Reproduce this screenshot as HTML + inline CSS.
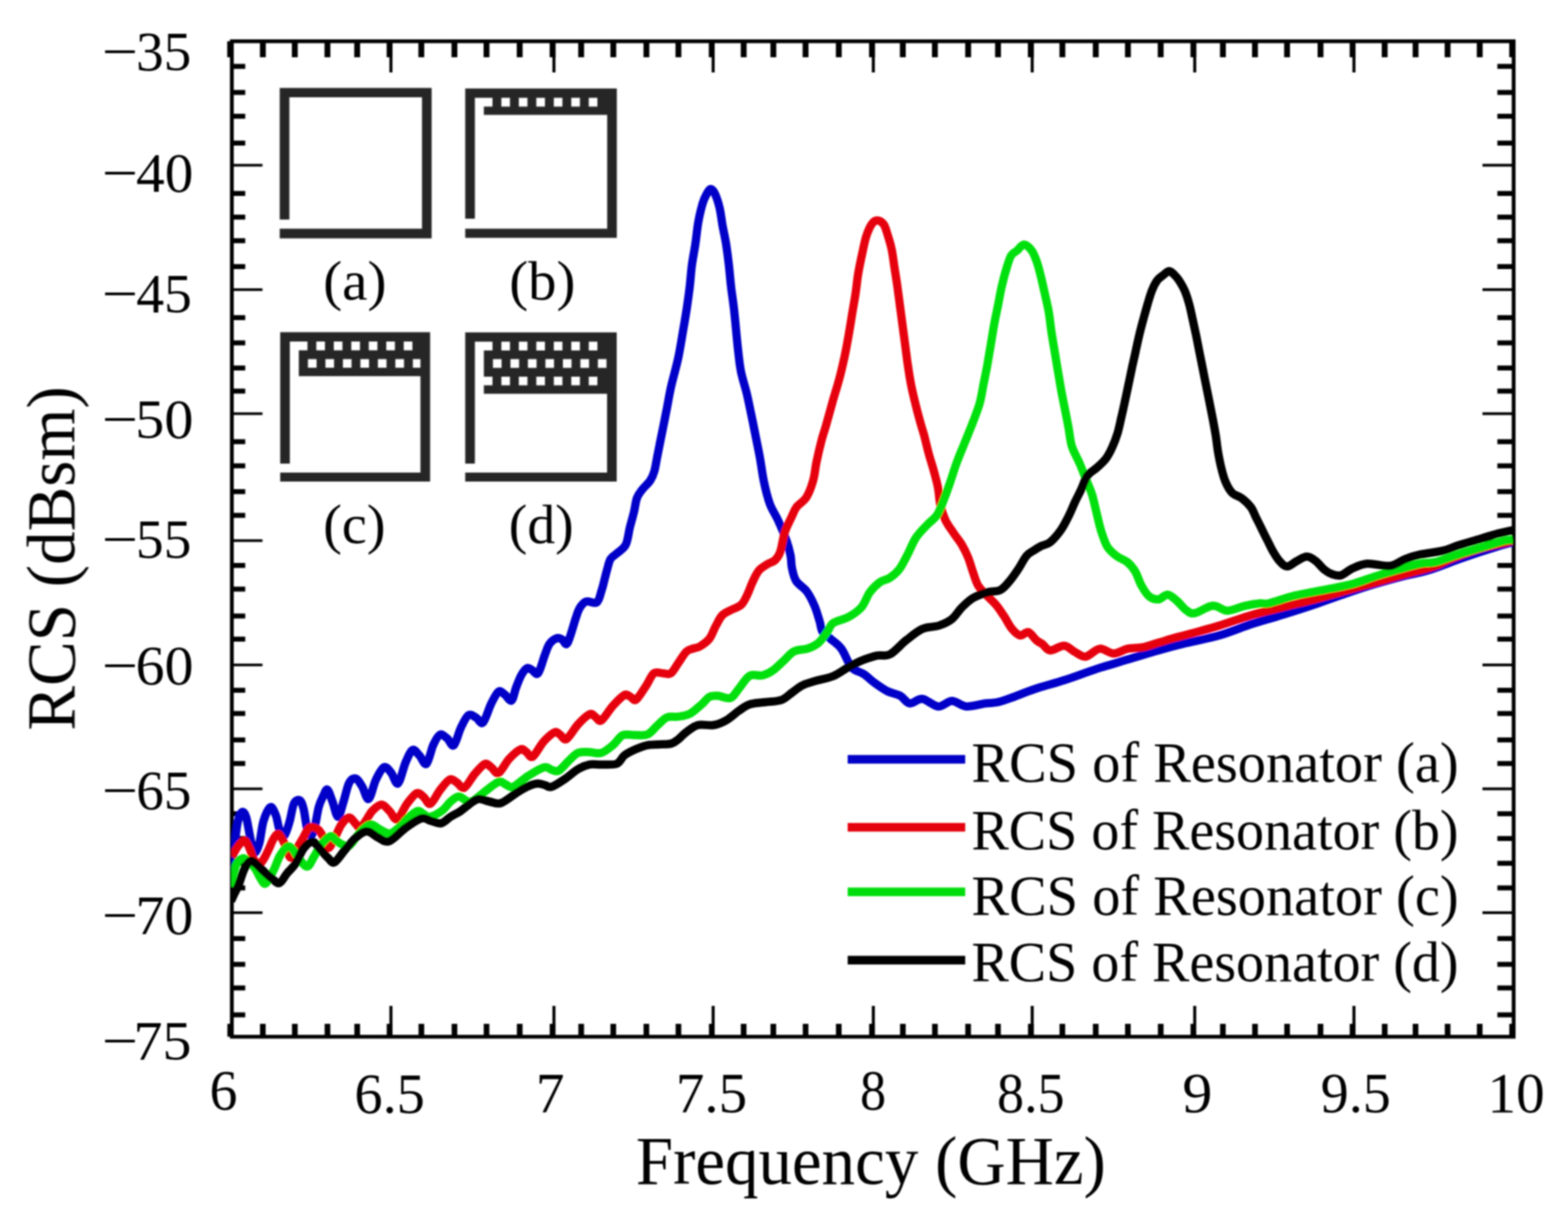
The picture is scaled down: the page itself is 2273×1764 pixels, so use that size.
<!DOCTYPE html>
<html><head><meta charset="utf-8"><title>RCS of Resonators</title>
<style>html,body{margin:0;padding:0;background:#fff;}body{width:2273px;height:1764px;overflow:hidden;}svg{display:block;}</style>
</head><body>
<svg width="2273" height="1764" viewBox="0 0 2273 1764">
<rect width="2273" height="1764" fill="#fff"/>
<defs><filter id="soft" x="0" y="0" width="100%" height="100%" filterUnits="userSpaceOnUse"><feGaussianBlur stdDeviation="0.9"/></filter></defs>
<g filter="url(#soft)">
<path fill="#272727" d="M405.50,127.40h220.20v13.50h-220.20zM405.50,140.90h14.00v177.40h-14.00zM611.70,140.90h14.00v190.50h-14.00zM405.50,331.40h220.20v14.00h-220.20z"/>
<path fill="#272727" d="M674.40,128.30h219.80v13.50h-219.80zM674.40,141.80h14.00v175.30h-14.00zM880.20,141.80h14.00v189.60h-14.00zM674.40,331.40h219.80v13.30h-219.80zM713.90,141.80h12.85v12.60h-12.85zM739.25,141.80h12.85v12.60h-12.85zM764.60,141.80h12.85v12.60h-12.85zM789.95,141.80h12.85v12.60h-12.85zM815.30,141.80h12.85v12.60h-12.85zM840.65,141.80h12.85v12.60h-12.85zM866.00,141.80h14.20v12.60h-14.20zM701.40,154.40h178.80v12.20h-178.80z"/>
<path fill="#272727" d="M406.20,481.60h217.30v13.50h-217.30zM406.20,495.10h14.00v176.80h-14.00zM609.50,495.10h14.00v189.90h-14.00zM406.20,685.00h217.30v13.10h-217.30zM445.70,495.10h12.85v12.60h-12.85zM471.05,495.10h12.85v12.60h-12.85zM496.40,495.10h12.85v12.60h-12.85zM521.75,495.10h12.85v12.60h-12.85zM547.10,495.10h12.85v12.60h-12.85zM572.45,495.10h12.85v12.60h-12.85zM597.80,495.10h11.70v12.60h-11.70zM433.20,507.70h176.30v12.70h-176.30zM433.20,520.40h13.20v12.60h-13.20zM458.90,520.40h12.85v12.60h-12.85zM484.25,520.40h12.85v12.60h-12.85zM509.60,520.40h12.85v12.60h-12.85zM534.95,520.40h12.85v12.60h-12.85zM560.30,520.40h12.85v12.60h-12.85zM585.65,520.40h12.85v12.60h-12.85zM433.20,533.00h176.30v12.20h-176.30z"/>
<path fill="#272727" d="M674.40,481.80h219.60v13.50h-219.60zM674.40,495.30h14.00v176.60h-14.00zM880.00,495.30h14.00v189.70h-14.00zM674.40,685.00h219.60v13.10h-219.60zM713.90,495.30h12.85v12.60h-12.85zM739.25,495.30h12.85v12.60h-12.85zM764.60,495.30h12.85v12.60h-12.85zM789.95,495.30h12.85v12.60h-12.85zM815.30,495.30h12.85v12.60h-12.85zM840.65,495.30h12.85v12.60h-12.85zM866.00,495.30h14.00v12.60h-14.00zM701.40,507.90h178.60v12.70h-178.60zM701.40,520.60h13.20v12.60h-13.20zM727.10,520.60h12.85v12.60h-12.85zM752.45,520.60h12.85v12.60h-12.85zM777.80,520.60h12.85v12.60h-12.85zM803.15,520.60h12.85v12.60h-12.85zM828.50,520.60h12.85v12.60h-12.85zM853.85,520.60h12.85v12.60h-12.85zM879.20,520.60h0.80v12.60h-0.80zM701.40,533.20h178.60v12.70h-178.60zM713.90,545.90h12.85v12.60h-12.85zM739.25,545.90h12.85v12.60h-12.85zM764.60,545.90h12.85v12.60h-12.85zM789.95,545.90h12.85v12.60h-12.85zM815.30,545.90h12.85v12.60h-12.85zM840.65,545.90h12.85v12.60h-12.85zM866.00,545.90h14.00v12.60h-14.00zM701.40,558.50h178.60v12.20h-178.60z"/>
<rect x="336.1" y="59.8" width="1858.1" height="1442.9" fill="none" stroke="#000" stroke-width="5.5"/>
<g fill="#000"><rect x="376.8" y="59.8" width="8.5" height="23.2"/><rect x="376.9" y="1484.0" width="8.2" height="18.7"/><rect x="423.1" y="59.8" width="8.5" height="23.2"/><rect x="423.3" y="1484.0" width="8.2" height="18.7"/><rect x="470.4" y="59.8" width="8.5" height="23.2"/><rect x="470.6" y="1484.0" width="8.2" height="18.7"/><rect x="513.5" y="59.8" width="8.5" height="23.2"/><rect x="513.7" y="1484.0" width="8.2" height="18.7"/><rect x="606.5" y="59.8" width="8.5" height="23.2"/><rect x="606.7" y="1484.0" width="8.2" height="18.7"/><rect x="654.5" y="59.8" width="8.5" height="23.2"/><rect x="654.7" y="1484.0" width="8.2" height="18.7"/><rect x="701.0" y="59.8" width="8.5" height="23.2"/><rect x="701.2" y="1484.0" width="8.2" height="18.7"/><rect x="749.1" y="59.8" width="8.5" height="23.2"/><rect x="749.3" y="1484.0" width="8.2" height="18.7"/><rect x="838.2" y="59.8" width="8.5" height="23.2"/><rect x="838.4" y="1484.0" width="8.2" height="18.7"/><rect x="884.8" y="59.8" width="8.5" height="23.2"/><rect x="884.9" y="1484.0" width="8.2" height="18.7"/><rect x="932.8" y="59.8" width="8.5" height="23.2"/><rect x="932.9" y="1484.0" width="8.2" height="18.7"/><rect x="979.2" y="59.8" width="8.5" height="23.2"/><rect x="979.4" y="1484.0" width="8.2" height="18.7"/><rect x="1073.8" y="59.8" width="8.5" height="23.2"/><rect x="1073.9" y="1484.0" width="8.2" height="18.7"/><rect x="1116.8" y="59.8" width="8.5" height="23.2"/><rect x="1116.9" y="1484.0" width="8.2" height="18.7"/><rect x="1163.5" y="59.8" width="8.5" height="23.2"/><rect x="1163.7" y="1484.0" width="8.2" height="18.7"/><rect x="1211.7" y="59.8" width="8.5" height="23.2"/><rect x="1211.8" y="1484.0" width="8.2" height="18.7"/><rect x="1304.5" y="59.8" width="8.5" height="23.2"/><rect x="1304.7" y="1484.0" width="8.2" height="18.7"/><rect x="1351.0" y="59.8" width="8.5" height="23.2"/><rect x="1351.2" y="1484.0" width="8.2" height="18.7"/><rect x="1399.2" y="59.8" width="8.5" height="23.2"/><rect x="1399.3" y="1484.0" width="8.2" height="18.7"/><rect x="1442.5" y="59.8" width="8.5" height="23.2"/><rect x="1442.6" y="1484.0" width="8.2" height="18.7"/><rect x="1535.8" y="59.8" width="8.5" height="23.2"/><rect x="1535.9" y="1484.0" width="8.2" height="18.7"/><rect x="1584.2" y="59.8" width="8.5" height="23.2"/><rect x="1584.3" y="1484.0" width="8.2" height="18.7"/><rect x="1630.8" y="59.8" width="8.5" height="23.2"/><rect x="1630.9" y="1484.0" width="8.2" height="18.7"/><rect x="1678.3" y="59.8" width="8.5" height="23.2"/><rect x="1678.5" y="1484.0" width="8.2" height="18.7"/><rect x="1768.5" y="59.8" width="8.5" height="23.2"/><rect x="1768.6" y="1484.0" width="8.2" height="18.7"/><rect x="1815.0" y="59.8" width="8.5" height="23.2"/><rect x="1815.2" y="1484.0" width="8.2" height="18.7"/><rect x="1861.5" y="59.8" width="8.5" height="23.2"/><rect x="1861.7" y="1484.0" width="8.2" height="18.7"/><rect x="1910.0" y="59.8" width="8.5" height="23.2"/><rect x="1910.1" y="1484.0" width="8.2" height="18.7"/><rect x="2003.0" y="59.8" width="8.5" height="23.2"/><rect x="2003.2" y="1484.0" width="8.2" height="18.7"/><rect x="2047.8" y="59.8" width="8.5" height="23.2"/><rect x="2047.9" y="1484.0" width="8.2" height="18.7"/><rect x="2094.2" y="59.8" width="8.5" height="23.2"/><rect x="2094.4" y="1484.0" width="8.2" height="18.7"/><rect x="2140.8" y="59.8" width="8.5" height="23.2"/><rect x="2140.9" y="1484.0" width="8.2" height="18.7"/><rect x="560.5" y="59.8" width="8.5" height="23.2"/><rect x="560.6" y="1484.0" width="8.2" height="18.7"/><rect x="796.8" y="59.8" width="8.5" height="23.2"/><rect x="796.9" y="1484.0" width="8.2" height="18.7"/><rect x="1027.5" y="59.8" width="8.5" height="23.2"/><rect x="1027.7" y="1484.0" width="8.2" height="18.7"/><rect x="1259.8" y="59.8" width="8.5" height="23.2"/><rect x="1259.9" y="1484.0" width="8.2" height="18.7"/><rect x="1490.0" y="59.8" width="8.5" height="23.2"/><rect x="1490.2" y="1484.0" width="8.2" height="18.7"/><rect x="1725.7" y="59.8" width="8.5" height="23.2"/><rect x="1725.8" y="1484.0" width="8.2" height="18.7"/><rect x="1956.5" y="59.8" width="8.5" height="23.2"/><rect x="1956.6" y="1484.0" width="8.2" height="18.7"/><rect x="329.4" y="59.8" width="8.5" height="23.2"/><rect x="329.6" y="1484.0" width="8.2" height="18.7"/><rect x="2187.8" y="59.8" width="8.5" height="23.2"/><rect x="2187.9" y="1484.0" width="8.2" height="18.7"/><rect x="564.5" y="59.8" width="4.4" height="45.2"/><rect x="564.5" y="1458.0" width="4.4" height="44.7"/><rect x="800.8" y="59.8" width="4.4" height="45.2"/><rect x="800.8" y="1458.0" width="4.4" height="44.7"/><rect x="1031.6" y="59.8" width="4.4" height="45.2"/><rect x="1031.6" y="1458.0" width="4.4" height="44.7"/><rect x="1263.8" y="59.8" width="4.4" height="45.2"/><rect x="1263.8" y="1458.0" width="4.4" height="44.7"/><rect x="1494.1" y="59.8" width="4.4" height="45.2"/><rect x="1494.1" y="1458.0" width="4.4" height="44.7"/><rect x="1729.7" y="59.8" width="4.4" height="45.2"/><rect x="1729.7" y="1458.0" width="4.4" height="44.7"/><rect x="1960.5" y="59.8" width="4.4" height="45.2"/><rect x="1960.5" y="1458.0" width="4.4" height="44.7"/><rect x="336.1" y="92.6" width="19.4" height="7.2"/><rect x="2170.6" y="92.6" width="23.6" height="7.2"/><rect x="336.1" y="130.4" width="19.4" height="7.2"/><rect x="2170.6" y="130.4" width="23.6" height="7.2"/><rect x="336.1" y="164.9" width="19.4" height="7.2"/><rect x="2170.6" y="164.9" width="23.6" height="7.2"/><rect x="336.1" y="203.8" width="19.4" height="7.2"/><rect x="2170.6" y="203.8" width="23.6" height="7.2"/><rect x="336.1" y="276.8" width="19.4" height="7.2"/><rect x="2170.6" y="276.8" width="23.6" height="7.2"/><rect x="336.1" y="311.1" width="19.4" height="7.2"/><rect x="2170.6" y="311.1" width="23.6" height="7.2"/><rect x="336.1" y="345.3" width="19.4" height="7.2"/><rect x="2170.6" y="345.3" width="23.6" height="7.2"/><rect x="336.1" y="382.8" width="19.4" height="7.2"/><rect x="2170.6" y="382.8" width="23.6" height="7.2"/><rect x="336.1" y="456.8" width="19.4" height="7.2"/><rect x="2170.6" y="456.8" width="23.6" height="7.2"/><rect x="336.1" y="493.4" width="19.4" height="7.2"/><rect x="2170.6" y="493.4" width="23.6" height="7.2"/><rect x="336.1" y="529.8" width="19.4" height="7.2"/><rect x="2170.6" y="529.8" width="23.6" height="7.2"/><rect x="336.1" y="563.3" width="19.4" height="7.2"/><rect x="2170.6" y="563.3" width="23.6" height="7.2"/><rect x="336.1" y="636.6" width="19.4" height="7.2"/><rect x="2170.6" y="636.6" width="23.6" height="7.2"/><rect x="336.1" y="671.6" width="19.4" height="7.2"/><rect x="2170.6" y="671.6" width="23.6" height="7.2"/><rect x="336.1" y="709.0" width="19.4" height="7.2"/><rect x="2170.6" y="709.0" width="23.6" height="7.2"/><rect x="336.1" y="743.4" width="19.4" height="7.2"/><rect x="2170.6" y="743.4" width="23.6" height="7.2"/><rect x="336.1" y="816.0" width="19.4" height="7.2"/><rect x="2170.6" y="816.0" width="23.6" height="7.2"/><rect x="336.1" y="850.3" width="19.4" height="7.2"/><rect x="2170.6" y="850.3" width="23.6" height="7.2"/><rect x="336.1" y="889.3" width="19.4" height="7.2"/><rect x="2170.6" y="889.3" width="23.6" height="7.2"/><rect x="336.1" y="922.8" width="19.4" height="7.2"/><rect x="2170.6" y="922.8" width="23.6" height="7.2"/><rect x="336.1" y="996.9" width="19.4" height="7.2"/><rect x="2170.6" y="996.9" width="23.6" height="7.2"/><rect x="336.1" y="1030.6" width="19.4" height="7.2"/><rect x="2170.6" y="1030.6" width="23.6" height="7.2"/><rect x="336.1" y="1068.9" width="19.4" height="7.2"/><rect x="2170.6" y="1068.9" width="23.6" height="7.2"/><rect x="336.1" y="1103.1" width="19.4" height="7.2"/><rect x="2170.6" y="1103.1" width="23.6" height="7.2"/><rect x="336.1" y="1175.9" width="19.4" height="7.2"/><rect x="2170.6" y="1175.9" width="23.6" height="7.2"/><rect x="336.1" y="1211.8" width="19.4" height="7.2"/><rect x="2170.6" y="1211.8" width="23.6" height="7.2"/><rect x="336.1" y="1247.7" width="19.4" height="7.2"/><rect x="2170.6" y="1247.7" width="23.6" height="7.2"/><rect x="336.1" y="1283.4" width="19.4" height="7.2"/><rect x="2170.6" y="1283.4" width="23.6" height="7.2"/><rect x="336.1" y="1356.8" width="19.4" height="7.2"/><rect x="2170.6" y="1356.8" width="23.6" height="7.2"/><rect x="336.1" y="1394.2" width="19.4" height="7.2"/><rect x="2170.6" y="1394.2" width="23.6" height="7.2"/><rect x="336.1" y="1428.4" width="19.4" height="7.2"/><rect x="2170.6" y="1428.4" width="23.6" height="7.2"/><rect x="336.1" y="1467.4" width="19.4" height="7.2"/><rect x="2170.6" y="1467.4" width="23.6" height="7.2"/><rect x="336.1" y="237.6" width="44.4" height="3.8"/><rect x="2149.0" y="237.5" width="45.2" height="4.0"/><rect x="336.1" y="417.9" width="44.4" height="3.8"/><rect x="2149.0" y="417.8" width="45.2" height="4.0"/><rect x="336.1" y="597.7" width="44.4" height="3.8"/><rect x="2149.0" y="597.6" width="45.2" height="4.0"/><rect x="336.1" y="781.7" width="44.4" height="3.8"/><rect x="2149.0" y="781.6" width="45.2" height="4.0"/><rect x="336.1" y="961.9" width="44.4" height="3.8"/><rect x="2149.0" y="961.8" width="45.2" height="4.0"/><rect x="336.1" y="1141.5" width="44.4" height="3.8"/><rect x="2149.0" y="1141.4" width="45.2" height="4.0"/><rect x="336.1" y="1321.0" width="44.4" height="3.8"/><rect x="2149.0" y="1320.9" width="45.2" height="4.0"/></g>
<defs><clipPath id="pc"><rect x="335.3" y="40" width="1857.6" height="1462"/></clipPath></defs>
<g clip-path="url(#pc)" fill="none" stroke-width="12" stroke-linejoin="round" stroke-linecap="butt">
<path d="M335.5,1262.0 C336.2,1255.8 338.6,1236.2 340.0,1225.0 C341.4,1213.8 342.7,1202.3 344.0,1195.0 C345.3,1187.7 346.6,1184.0 348.0,1181.0 C349.4,1178.0 351.0,1176.3 352.5,1177.0 C354.0,1177.7 355.6,1180.3 357.0,1185.0 C358.4,1189.7 359.7,1198.3 361.0,1205.0 C362.3,1211.7 363.6,1219.8 365.0,1225.0 C366.4,1230.2 367.9,1236.5 369.7,1236.0 C371.5,1235.5 373.9,1229.7 376.0,1222.0 C378.1,1214.3 379.3,1198.7 382.0,1190.0 C384.7,1181.3 389.0,1171.3 392.0,1170.0 C395.0,1168.7 397.8,1176.7 400.0,1182.0 C402.2,1187.3 402.9,1197.2 405.0,1202.0 C407.1,1206.8 409.8,1213.0 412.3,1211.0 C414.8,1209.0 417.7,1197.7 420.0,1190.0 C422.3,1182.3 423.6,1170.0 426.0,1165.0 C428.4,1160.0 432.2,1158.8 434.5,1160.0 C436.8,1161.2 438.2,1165.3 440.0,1172.0 C441.8,1178.7 443.2,1193.5 445.0,1200.0 C446.8,1206.5 448.7,1211.0 450.5,1211.0 C452.3,1211.0 454.1,1206.8 456.0,1200.0 C457.9,1193.2 460.0,1177.5 462.0,1170.0 C464.0,1162.5 465.9,1159.2 468.0,1155.0 C470.1,1150.8 472.2,1143.3 474.5,1144.5 C476.8,1145.7 479.4,1155.4 482.0,1162.0 C484.6,1168.6 487.3,1184.0 490.0,1184.0 C492.7,1184.0 495.3,1170.2 498.0,1162.0 C500.7,1153.8 503.1,1140.6 506.0,1135.0 C508.9,1129.4 512.3,1127.6 515.5,1128.4 C518.7,1129.2 521.9,1135.1 525.0,1140.0 C528.1,1144.9 531.1,1159.7 534.4,1158.0 C537.7,1156.3 541.3,1137.7 545.0,1130.0 C548.7,1122.3 553.1,1113.7 556.8,1112.0 C560.5,1110.3 563.6,1116.1 567.0,1120.0 C570.4,1123.9 573.4,1138.0 576.9,1135.5 C580.4,1133.0 584.5,1113.1 588.0,1105.0 C591.5,1096.9 594.8,1088.8 598.1,1087.1 C601.4,1085.4 604.6,1091.7 608.0,1095.0 C611.4,1098.3 614.9,1109.7 618.2,1107.2 C621.5,1104.7 624.8,1087.0 628.0,1080.0 C631.2,1073.0 634.4,1066.7 637.7,1065.0 C641.0,1063.3 644.6,1067.5 648.0,1070.0 C651.4,1072.5 654.5,1082.8 657.8,1080.3 C661.1,1077.8 664.5,1062.3 668.0,1055.0 C671.5,1047.7 675.3,1039.1 679.0,1036.6 C682.7,1034.1 686.5,1038.2 690.0,1040.0 C693.5,1041.8 696.5,1050.6 700.2,1047.3 C703.9,1044.0 708.2,1027.5 712.0,1020.0 C715.8,1012.5 719.4,1004.6 722.7,1002.4 C726.0,1000.2 728.9,1004.8 732.0,1007.0 C735.1,1009.2 738.8,1017.1 741.5,1015.4 C744.2,1013.7 745.7,1003.0 748.0,997.0 C750.3,991.0 752.7,984.0 755.3,979.3 C757.9,974.6 761.0,970.1 763.6,968.7 C766.2,967.3 768.2,969.8 771.0,971.0 C773.8,972.2 777.0,979.3 780.1,975.8 C783.2,972.3 786.9,956.9 789.6,949.8 C792.4,942.7 793.7,937.4 796.6,933.3 C799.5,929.2 804.2,926.0 807.3,925.0 C810.4,924.0 812.5,925.8 815.0,927.0 C817.5,928.2 819.4,937.1 822.6,932.1 C825.8,927.1 831.5,905.2 834.4,896.7 C837.3,888.2 837.8,885.5 840.3,881.4 C842.8,877.3 845.6,873.3 849.7,871.9 C853.8,870.5 861.4,875.9 865.1,873.1 C868.9,870.4 870.2,861.3 872.2,855.4 C874.2,849.5 875.6,842.6 876.9,837.7 C878.2,832.8 878.6,830.6 880.0,826.0 C881.4,821.4 882.5,814.2 885.1,810.1 C887.7,806.0 891.7,804.7 895.4,801.2 C899.1,797.8 904.2,795.5 907.2,789.4 C910.2,783.3 911.1,772.3 913.1,764.4 C915.1,756.5 917.3,749.3 919.0,742.2 C920.7,735.1 921.4,727.0 923.4,721.6 C925.4,716.2 927.6,714.0 930.8,709.8 C934.0,705.6 939.6,700.9 942.6,696.5 C945.6,692.1 946.8,689.1 948.5,683.2 C950.2,677.3 951.4,668.5 952.9,661.1 C954.4,653.7 955.8,646.4 957.3,639.0 C958.8,631.6 960.3,624.3 961.8,616.9 C963.3,609.5 964.3,604.2 966.2,594.7 C968.1,585.2 970.1,572.3 973.0,559.6 C975.9,546.9 980.4,532.1 983.3,518.3 C986.2,504.5 988.5,489.0 990.6,477.0 C992.7,465.0 994.2,456.4 995.7,446.1 C997.2,435.8 998.7,425.4 999.9,415.1 C1001.1,404.8 1001.6,394.5 1003.0,384.2 C1004.4,373.9 1006.6,363.5 1008.1,353.2 C1009.6,342.9 1010.5,331.8 1012.2,322.2 C1013.9,312.6 1016.4,302.3 1018.4,295.4 C1020.4,288.5 1022.5,284.6 1024.5,281.0 C1026.5,277.4 1028.5,274.0 1030.5,274.0 C1032.5,274.0 1034.4,276.4 1036.5,281.0 C1038.6,285.6 1041.4,294.0 1043.2,301.6 C1045.0,309.2 1045.8,317.8 1047.3,326.4 C1048.8,335.0 1051.0,343.6 1052.5,353.2 C1054.0,362.8 1055.4,373.9 1056.6,384.2 C1057.8,394.5 1058.5,404.8 1059.7,415.1 C1060.9,425.4 1062.6,435.8 1063.8,446.1 C1065.0,456.4 1065.9,466.7 1066.9,477.0 C1067.9,487.3 1068.8,497.7 1070.0,508.0 C1071.2,518.3 1072.1,528.7 1074.2,539.0 C1076.3,549.3 1080.0,559.9 1082.4,569.9 C1084.8,579.9 1086.6,589.4 1088.6,598.8 C1090.6,608.2 1092.1,615.7 1094.2,626.3 C1096.3,636.9 1099.2,650.4 1101.4,662.5 C1103.6,674.6 1105.1,687.5 1107.5,698.8 C1109.9,710.1 1112.5,720.9 1115.9,730.2 C1119.3,739.5 1124.0,745.5 1128.0,754.4 C1132.0,763.3 1137.1,775.0 1140.1,783.4 C1143.1,791.8 1144.7,798.4 1146.0,805.0 C1147.3,811.6 1146.7,816.8 1148.0,823.0 C1149.3,829.2 1150.5,836.3 1154.0,842.0 C1157.5,847.7 1164.8,851.0 1169.3,857.0 C1173.8,863.0 1177.6,870.8 1180.7,878.0 C1183.8,885.2 1186.0,893.7 1188.0,900.0 C1190.0,906.3 1189.8,911.7 1192.5,916.0 C1195.2,920.3 1199.4,921.9 1204.0,926.0 C1208.6,930.1 1214.8,933.7 1219.9,940.6 C1225.0,947.5 1229.1,961.1 1234.4,967.2 C1239.8,973.3 1246.3,973.2 1252.0,977.0 C1257.7,980.8 1262.5,986.0 1268.3,990.2 C1274.1,994.4 1280.5,999.0 1286.6,1002.0 C1292.7,1005.0 1299.7,1005.6 1305.0,1008.5 C1310.3,1011.4 1313.4,1018.8 1318.7,1019.5 C1324.0,1020.2 1330.1,1012.2 1337.0,1013.0 C1343.9,1013.8 1352.8,1023.5 1360.0,1024.0 C1367.2,1024.5 1373.2,1016.0 1380.0,1016.0 C1386.8,1016.0 1392.9,1023.4 1401.0,1024.0 C1409.1,1024.6 1420.9,1020.5 1428.6,1019.5 C1436.3,1018.5 1440.1,1019.3 1447.0,1017.7 C1453.9,1016.1 1461.2,1013.2 1470.0,1010.0 C1478.8,1006.8 1487.5,1002.8 1500.0,998.7 C1512.5,994.6 1529.9,990.1 1544.8,985.3 C1559.7,980.4 1574.6,974.5 1589.6,969.6 C1604.5,964.7 1619.5,960.6 1634.5,956.1 C1649.5,951.6 1665.0,946.7 1679.3,942.7 C1693.5,938.7 1705.3,935.6 1720.0,932.0 C1734.7,928.4 1751.7,925.6 1767.6,921.0 C1783.5,916.4 1799.3,909.5 1815.2,904.3 C1831.1,899.1 1847.0,895.0 1862.9,890.0 C1878.8,885.0 1894.7,879.9 1910.5,874.5 C1926.3,869.1 1944.2,862.5 1958.0,857.9 C1971.8,853.2 1979.8,850.5 1993.0,846.6 C2006.2,842.7 2024.1,837.8 2036.9,834.5 C2049.7,831.2 2055.2,831.4 2069.9,826.8 C2084.6,822.2 2108.3,812.7 2124.8,807.0 C2141.3,801.3 2157.4,796.2 2168.8,792.7 C2180.2,789.2 2189.0,787.1 2193.0,786.0" stroke="#0606c8"/>
<path d="M336.0,1242.0 C337.3,1239.7 341.5,1231.7 344.0,1228.0 C346.5,1224.3 349.0,1221.5 351.0,1220.0 C353.0,1218.5 354.2,1217.3 356.0,1219.0 C357.8,1220.7 360.0,1225.5 362.0,1230.0 C364.0,1234.5 365.7,1242.3 368.0,1246.0 C370.3,1249.7 373.5,1252.3 376.0,1252.0 C378.5,1251.7 380.7,1247.7 383.0,1244.0 C385.3,1240.3 387.7,1234.8 390.0,1230.0 C392.3,1225.2 394.7,1218.5 397.0,1215.0 C399.3,1211.5 401.5,1207.8 404.0,1209.0 C406.5,1210.2 409.2,1216.3 412.0,1222.0 C414.8,1227.7 418.0,1241.7 421.0,1243.0 C424.0,1244.3 426.9,1234.8 430.0,1230.0 C433.1,1225.2 436.6,1219.0 439.6,1214.0 C442.6,1209.0 445.1,1202.3 448.0,1200.0 C450.9,1197.7 454.7,1199.5 457.0,1200.0 C459.3,1200.5 460.2,1201.0 462.0,1203.0 C463.8,1205.0 465.7,1207.7 468.0,1212.0 C470.3,1216.3 473.2,1228.5 476.0,1229.0 C478.8,1229.5 481.8,1220.7 485.0,1215.0 C488.2,1209.3 491.5,1200.0 495.0,1195.0 C498.5,1190.0 502.8,1185.5 506.0,1185.0 C509.2,1184.5 511.3,1189.5 514.0,1192.0 C516.7,1194.5 519.3,1200.3 522.0,1200.0 C524.7,1199.7 527.0,1194.2 530.0,1190.0 C533.0,1185.8 536.1,1179.0 540.0,1175.0 C543.9,1171.0 549.1,1166.0 553.3,1166.2 C557.5,1166.4 561.3,1172.5 565.0,1176.0 C568.7,1179.5 571.5,1189.2 575.7,1187.4 C579.9,1185.6 585.3,1171.3 590.0,1165.0 C594.7,1158.7 600.0,1151.4 604.0,1149.7 C608.0,1148.0 610.7,1152.5 614.0,1155.0 C617.3,1157.5 620.0,1166.7 624.0,1165.0 C628.0,1163.3 633.4,1150.8 638.0,1145.0 C642.6,1139.2 647.9,1131.7 651.9,1129.9 C655.9,1128.1 658.5,1132.0 662.0,1134.0 C665.5,1136.0 668.8,1143.7 673.1,1141.7 C677.4,1139.7 683.1,1127.7 688.0,1122.0 C692.9,1116.3 698.6,1109.1 702.6,1107.4 C706.6,1105.7 708.6,1109.8 712.0,1112.0 C715.4,1114.2 718.4,1122.4 722.7,1120.4 C727.0,1118.4 732.7,1105.7 738.0,1100.0 C743.3,1094.3 750.3,1087.9 754.5,1086.2 C758.7,1084.5 760.0,1088.2 763.0,1090.0 C766.0,1091.8 768.0,1099.3 772.2,1096.8 C776.4,1094.3 782.7,1080.9 788.0,1075.0 C793.3,1069.1 800.0,1063.1 804.0,1061.4 C808.0,1059.7 809.1,1063.4 812.0,1065.0 C814.9,1066.6 816.9,1073.7 821.2,1071.2 C825.5,1068.7 832.4,1055.9 838.0,1049.9 C843.6,1043.9 850.6,1037.1 854.8,1035.3 C859.0,1033.5 860.2,1037.5 863.0,1039.0 C865.8,1040.5 867.5,1047.0 871.7,1044.3 C876.0,1041.6 882.9,1029.2 888.5,1023.0 C894.1,1016.8 901.0,1009.5 905.3,1007.3 C909.5,1005.1 911.2,1008.9 914.0,1010.0 C916.8,1011.1 918.3,1016.7 922.1,1014.0 C925.9,1011.3 932.4,1000.1 936.7,993.8 C941.0,987.4 943.8,978.9 947.9,975.9 C952.0,972.9 957.2,975.9 961.3,975.9 C965.4,975.9 968.9,978.5 972.6,975.9 C976.4,973.3 980.1,965.4 983.8,960.2 C987.5,955.0 991.5,947.9 995.0,944.5 C998.5,941.1 1001.7,941.2 1005.0,940.0 C1008.3,938.8 1010.7,939.4 1014.6,937.0 C1018.5,934.6 1024.6,930.7 1028.4,925.8 C1032.2,920.9 1034.5,913.0 1037.6,907.4 C1040.7,901.8 1043.2,895.8 1046.8,892.0 C1050.4,888.2 1054.5,886.9 1059.1,884.4 C1063.7,881.9 1070.3,880.6 1074.4,876.7 C1078.5,872.9 1080.9,866.8 1083.6,861.3 C1086.3,855.8 1088.1,849.6 1090.8,843.9 C1093.5,838.2 1096.5,831.3 1100.0,827.0 C1103.5,822.7 1108.1,820.5 1112.0,818.0 C1115.9,815.5 1120.3,815.0 1123.5,812.0 C1126.7,809.0 1128.6,806.8 1131.0,800.0 C1133.4,793.2 1135.0,779.7 1137.7,771.3 C1140.4,762.9 1144.6,755.6 1147.4,749.6 C1150.2,743.6 1151.0,739.9 1154.6,735.1 C1158.2,730.3 1165.1,727.1 1169.1,720.6 C1173.1,714.1 1176.4,704.9 1178.8,696.4 C1181.2,687.9 1181.6,679.5 1183.6,669.8 C1185.6,660.1 1188.6,647.2 1190.9,638.4 C1193.2,629.6 1194.6,626.6 1197.3,617.2 C1200.0,607.8 1203.8,593.5 1207.0,582.1 C1210.2,570.7 1213.8,560.0 1216.7,549.0 C1219.6,538.0 1222.2,526.6 1224.5,515.9 C1226.8,505.2 1228.6,494.8 1230.4,484.7 C1232.2,474.6 1233.6,465.2 1235.2,455.5 C1236.8,445.8 1238.6,436.0 1240.1,426.3 C1241.6,416.6 1242.4,406.8 1244.0,397.1 C1245.6,387.4 1247.8,377.0 1249.8,367.9 C1251.8,358.8 1253.4,349.7 1255.7,342.6 C1258.0,335.5 1260.9,329.0 1263.5,325.1 C1266.1,321.2 1268.4,319.5 1271.3,319.5 C1274.2,319.5 1278.4,321.6 1281.0,325.1 C1283.6,328.6 1284.8,334.4 1286.8,340.6 C1288.8,346.8 1291.1,354.3 1292.7,362.1 C1294.3,369.9 1295.3,379.0 1296.6,387.4 C1297.9,395.8 1299.2,403.6 1300.5,412.7 C1301.8,421.8 1303.1,432.2 1304.4,441.9 C1305.7,451.6 1307.0,461.4 1308.3,471.1 C1309.6,480.8 1310.9,490.6 1312.2,500.3 C1313.5,510.0 1314.6,519.8 1316.1,529.5 C1317.5,539.2 1319.0,549.0 1320.9,558.7 C1322.8,568.5 1325.3,578.2 1327.7,588.0 C1330.1,597.8 1333.5,610.1 1335.5,617.2 C1337.5,624.3 1337.7,623.7 1339.6,630.7 C1341.5,637.7 1344.3,650.4 1346.7,659.0 C1349.1,667.6 1351.6,674.7 1353.7,682.6 C1355.8,690.5 1358.0,697.9 1359.6,706.2 C1361.2,714.5 1361.4,724.3 1363.2,732.2 C1365.0,740.1 1367.2,746.7 1370.3,753.4 C1373.4,760.1 1378.2,766.4 1382.1,772.3 C1386.0,778.2 1390.4,783.0 1393.9,788.9 C1397.4,794.8 1400.5,801.0 1403.3,807.7 C1406.0,814.4 1408.0,822.3 1410.4,829.0 C1412.8,835.7 1414.3,842.4 1417.5,847.9 C1420.7,853.4 1425.0,857.3 1429.3,862.0 C1433.6,866.7 1439.1,871.1 1443.4,876.2 C1447.7,881.3 1451.2,886.8 1455.2,892.7 C1459.2,898.6 1463.1,906.9 1467.1,911.6 C1471.0,916.3 1475.0,920.2 1478.9,921.0 C1482.8,921.8 1486.8,915.1 1490.7,916.3 C1494.6,917.5 1499.1,925.2 1502.5,928.1 C1505.9,931.0 1507.9,931.3 1511.2,933.7 C1514.5,936.1 1517.2,942.3 1522.4,942.7 C1527.6,943.1 1536.6,935.6 1542.6,936.0 C1548.6,936.4 1553.1,942.4 1558.3,945.0 C1563.5,947.6 1568.0,952.5 1574.0,951.7 C1580.0,950.9 1587.4,941.1 1594.1,940.4 C1600.8,939.6 1607.6,947.2 1614.3,947.2 C1621.0,947.2 1627.4,941.9 1634.5,940.4 C1641.6,938.9 1649.4,939.7 1656.9,938.2 C1664.4,936.7 1671.8,933.7 1679.3,931.5 C1686.8,929.3 1694.9,926.7 1701.7,924.8 C1708.5,922.9 1709.0,923.0 1720.0,920.0 C1731.0,917.0 1751.7,911.5 1767.6,906.7 C1783.5,901.9 1799.3,895.8 1815.2,891.2 C1831.1,886.6 1847.0,883.3 1862.9,879.3 C1878.8,875.3 1894.7,871.6 1910.5,867.4 C1926.3,863.2 1944.2,858.1 1958.0,854.3 C1971.8,850.5 1979.8,848.1 1993.0,844.4 C2006.2,840.7 2022.2,836.3 2036.9,832.3 C2051.6,828.3 2069.9,823.9 2080.9,820.2 C2091.9,816.5 2091.9,814.5 2102.9,810.3 C2113.9,806.1 2131.8,799.4 2146.8,795.0 C2161.8,790.6 2185.3,785.8 2193.0,784.0" stroke="#e6060a"/>
<path d="M334.0,1285.0 C334.7,1282.2 336.5,1273.5 338.0,1268.0 C339.5,1262.5 340.7,1256.0 343.0,1252.0 C345.3,1248.0 349.2,1244.7 352.0,1244.0 C354.8,1243.3 357.1,1245.6 360.0,1248.0 C362.9,1250.4 366.9,1254.5 369.7,1258.5 C372.5,1262.5 374.6,1268.2 377.0,1272.0 C379.4,1275.8 381.7,1281.0 384.0,1281.0 C386.3,1281.0 388.7,1275.8 391.0,1272.0 C393.3,1268.2 395.5,1263.8 398.0,1258.5 C400.5,1253.2 402.8,1245.2 406.0,1240.0 C409.2,1234.8 413.8,1228.3 417.0,1227.0 C420.2,1225.7 422.3,1229.2 425.0,1232.0 C427.7,1234.8 429.6,1240.0 433.0,1244.0 C436.4,1248.0 441.6,1256.3 445.3,1256.0 C449.0,1255.7 451.6,1247.4 455.0,1242.0 C458.4,1236.6 462.0,1228.8 466.0,1223.8 C470.0,1218.8 475.5,1213.2 479.0,1212.2 C482.5,1211.2 484.2,1216.0 487.0,1218.0 C489.8,1220.0 492.8,1222.7 496.0,1224.0 C499.2,1225.3 502.7,1227.7 506.0,1226.0 C509.3,1224.3 512.7,1218.0 516.0,1214.0 C519.3,1210.0 522.3,1205.2 526.0,1202.0 C529.7,1198.8 533.7,1194.8 538.0,1195.0 C542.3,1195.2 547.3,1200.8 552.0,1203.0 C556.7,1205.2 561.0,1209.2 566.0,1208.0 C571.0,1206.8 578.0,1199.5 582.0,1196.0 C586.0,1192.5 586.1,1190.4 590.0,1187.0 C593.9,1183.6 601.2,1176.8 605.2,1175.6 C609.2,1174.4 611.0,1178.6 614.0,1180.0 C617.0,1181.4 618.5,1184.9 623.0,1184.0 C627.5,1183.1 636.2,1178.4 641.2,1174.7 C646.2,1171.0 649.1,1165.3 653.0,1162.0 C656.9,1158.7 661.1,1154.9 664.8,1154.6 C668.5,1154.3 671.8,1158.8 675.0,1160.0 C678.2,1161.2 679.5,1164.0 684.0,1162.0 C688.5,1160.0 695.5,1152.8 702.0,1148.0 C708.5,1143.2 717.5,1135.2 722.7,1133.4 C727.9,1131.6 729.5,1135.8 733.0,1137.0 C736.5,1138.2 738.6,1142.5 743.9,1140.5 C749.2,1138.5 757.5,1129.7 765.0,1125.0 C772.5,1120.3 782.9,1113.7 788.7,1112.2 C794.5,1110.7 796.5,1115.2 800.0,1116.0 C803.5,1116.8 805.9,1119.2 810.0,1117.0 C814.1,1114.8 819.9,1106.9 824.6,1102.6 C829.3,1098.3 833.0,1093.4 838.0,1091.3 C843.0,1089.2 849.2,1090.2 854.8,1090.2 C860.4,1090.2 866.1,1093.0 871.7,1091.3 C877.3,1089.6 883.3,1084.4 888.5,1080.1 C893.7,1075.8 897.4,1068.0 903.0,1065.6 C908.6,1063.2 916.1,1065.8 922.1,1065.6 C928.1,1065.4 933.7,1066.8 938.9,1064.4 C944.1,1062.0 948.8,1055.1 953.5,1051.0 C958.2,1046.9 962.0,1041.8 967.0,1039.8 C972.0,1037.8 978.2,1039.6 983.8,1038.7 C989.4,1037.8 995.0,1037.2 1000.6,1034.2 C1006.2,1031.2 1012.7,1024.7 1017.4,1020.7 C1022.1,1016.7 1024.7,1012.0 1028.6,1010.0 C1032.5,1008.0 1035.6,1008.3 1040.7,1008.6 C1045.8,1008.9 1054.0,1013.5 1059.1,1011.7 C1064.2,1009.9 1066.7,1003.3 1071.3,997.9 C1075.9,992.5 1081.1,982.5 1086.7,979.4 C1092.3,976.2 1099.5,980.3 1105.1,979.0 C1110.7,977.7 1115.3,975.3 1120.4,971.8 C1125.5,968.3 1130.7,962.6 1135.8,958.0 C1140.9,953.4 1145.2,947.2 1151.1,944.2 C1157.0,941.2 1165.1,942.0 1171.0,940.0 C1176.9,938.0 1181.8,935.8 1186.4,931.9 C1191.0,928.0 1195.1,921.4 1198.7,916.6 C1202.3,911.8 1202.7,906.7 1207.8,903.0 C1212.9,899.3 1222.8,898.4 1229.6,894.6 C1236.4,890.8 1243.7,886.1 1248.9,880.1 C1254.1,874.1 1256.6,864.4 1261.0,858.4 C1265.4,852.4 1270.7,847.4 1275.5,843.9 C1280.3,840.4 1285.2,840.8 1290.0,837.5 C1294.8,834.2 1299.9,830.0 1304.2,824.3 C1308.5,818.5 1312.1,810.5 1316.0,803.0 C1319.9,795.5 1323.1,786.5 1327.8,779.4 C1332.5,772.3 1339.2,766.0 1344.3,760.5 C1349.4,755.0 1354.6,752.3 1358.5,746.4 C1362.4,740.5 1364.8,733.0 1367.9,725.1 C1371.0,717.2 1374.2,708.2 1377.3,699.2 C1380.4,690.2 1383.6,679.5 1386.8,670.8 C1390.0,662.1 1393.3,654.3 1396.2,647.2 C1399.1,640.1 1401.6,634.1 1404.0,628.0 C1406.4,621.9 1408.1,618.1 1410.8,610.8 C1413.5,603.5 1417.7,593.5 1420.2,584.4 C1422.7,575.3 1424.0,565.5 1425.9,556.1 C1427.8,546.7 1429.8,537.2 1431.5,527.7 C1433.2,518.2 1434.7,508.8 1436.3,499.4 C1437.9,490.0 1439.3,480.5 1441.0,471.1 C1442.7,461.7 1444.8,452.2 1446.7,442.8 C1448.6,433.4 1450.1,423.8 1452.3,414.4 C1454.5,404.9 1457.6,393.5 1459.9,386.1 C1462.2,378.7 1463.7,373.8 1466.0,370.0 C1468.3,366.2 1470.9,366.1 1474.0,363.5 C1477.1,360.9 1480.8,354.5 1484.4,354.5 C1488.0,354.5 1492.7,359.1 1495.8,363.4 C1498.9,367.7 1501.1,374.1 1503.3,380.4 C1505.5,386.7 1507.1,393.6 1509.0,401.2 C1510.9,408.8 1512.7,417.3 1514.6,425.8 C1516.5,434.3 1518.7,443.1 1520.3,452.2 C1521.9,461.3 1522.7,471.1 1524.1,480.5 C1525.5,489.9 1527.2,499.4 1528.8,508.9 C1530.4,518.4 1531.9,527.8 1533.5,537.2 C1535.1,546.6 1536.6,556.1 1538.3,565.5 C1540.0,574.9 1542.1,584.7 1543.9,593.8 C1545.7,602.9 1547.3,611.1 1549.0,620.0 C1550.7,628.9 1551.1,638.3 1553.8,646.9 C1556.5,655.5 1561.6,663.6 1565.0,671.5 C1568.4,679.4 1571.0,686.5 1574.0,694.0 C1577.0,701.5 1580.3,708.2 1582.9,716.4 C1585.5,724.6 1587.3,734.2 1589.6,743.2 C1591.8,752.2 1593.8,761.9 1596.4,770.1 C1599.0,778.3 1601.6,786.6 1605.3,792.6 C1609.0,798.6 1613.9,802.3 1618.8,806.0 C1623.7,809.7 1630.0,811.3 1634.5,815.0 C1639.0,818.7 1642.4,822.8 1645.7,828.4 C1649.0,834.0 1651.2,842.6 1654.6,848.6 C1657.9,854.6 1661.7,860.9 1665.8,864.3 C1669.9,867.6 1674.8,869.1 1679.3,868.7 C1683.8,868.3 1688.2,861.6 1692.7,862.0 C1697.2,862.4 1701.7,867.3 1706.2,871.0 C1710.7,874.7 1715.3,881.4 1719.6,884.4 C1723.9,887.4 1725.5,889.8 1731.9,888.8 C1738.3,887.8 1750.2,878.7 1758.1,878.1 C1766.0,877.5 1771.9,885.2 1779.5,885.2 C1787.1,885.2 1795.8,880.2 1803.7,878.4 C1811.6,876.6 1821.2,875.1 1827.1,874.5 C1833.0,873.9 1831.0,876.3 1839.0,874.5 C1847.0,872.7 1862.9,866.8 1874.8,863.8 C1886.7,860.8 1896.6,859.5 1910.5,856.7 C1924.4,853.9 1944.2,850.6 1958.0,847.1 C1971.8,843.6 1981.7,839.2 1993.0,835.6 C2004.3,832.0 2015.0,828.8 2026.0,825.7 C2037.0,822.6 2049.8,818.8 2058.9,817.0 C2068.1,815.2 2071.8,816.9 2080.9,814.7 C2090.1,812.5 2102.8,807.2 2113.8,803.7 C2124.8,800.2 2135.8,797.1 2146.8,793.8 C2157.8,790.5 2172.1,785.9 2179.8,784.0 C2187.5,782.1 2190.8,782.8 2193.0,782.5" stroke="#00e00a"/>
<path d="M335.0,1306.0 C335.8,1304.2 338.1,1299.0 340.0,1295.0 C341.9,1291.0 343.9,1287.8 346.2,1282.0 C348.5,1276.2 351.2,1265.7 354.0,1260.0 C356.8,1254.3 360.2,1249.3 363.0,1248.0 C365.8,1246.7 368.3,1250.0 371.0,1252.0 C373.7,1254.0 375.5,1256.6 379.2,1260.0 C382.9,1263.4 389.0,1269.3 393.3,1272.6 C397.6,1275.9 401.2,1281.1 405.0,1280.0 C408.8,1278.9 412.1,1270.7 416.0,1266.0 C419.9,1261.3 424.3,1258.0 428.3,1252.0 C432.3,1246.0 435.9,1235.3 440.0,1230.0 C444.1,1224.7 449.5,1220.7 452.8,1220.0 C456.1,1219.3 457.8,1223.8 460.0,1226.0 C462.2,1228.2 463.3,1230.2 466.0,1233.2 C468.7,1236.2 472.9,1241.2 476.0,1244.0 C479.1,1246.8 480.8,1252.0 484.8,1250.0 C488.8,1248.0 494.8,1238.0 500.0,1232.0 C505.2,1226.0 510.7,1218.5 516.0,1214.0 C521.3,1209.5 526.7,1205.1 532.0,1205.1 C537.3,1205.1 542.7,1211.6 548.0,1214.0 C553.3,1216.4 557.3,1221.6 564.0,1219.3 C570.7,1217.0 580.2,1205.5 588.0,1200.0 C595.8,1194.5 604.8,1188.0 611.0,1186.3 C617.2,1184.6 620.3,1188.8 625.0,1190.0 C629.7,1191.2 634.7,1194.3 639.4,1193.3 C644.1,1192.3 648.4,1186.9 653.0,1184.0 C657.6,1181.1 662.7,1178.9 667.2,1175.9 C671.7,1172.9 675.7,1169.0 680.0,1166.0 C684.3,1163.0 688.2,1158.9 693.2,1158.2 C698.2,1157.5 704.5,1161.0 710.0,1162.0 C715.5,1163.0 719.6,1166.2 726.2,1164.0 C732.8,1161.8 743.3,1152.7 749.8,1148.7 C756.3,1144.7 760.1,1142.2 765.0,1140.0 C769.9,1137.8 775.1,1136.1 779.3,1135.8 C783.5,1135.5 786.6,1137.2 790.0,1138.0 C793.4,1138.8 794.5,1142.0 799.4,1140.5 C804.3,1139.0 813.0,1133.0 819.4,1128.7 C825.8,1124.4 832.1,1118.3 838.0,1114.9 C843.9,1111.5 849.2,1109.3 854.8,1108.2 C860.4,1107.1 865.2,1108.4 871.7,1108.2 C878.2,1108.0 888.5,1109.2 894.1,1107.0 C899.7,1104.8 900.6,1098.2 905.3,1094.7 C910.0,1091.2 916.5,1088.1 922.1,1085.7 C927.7,1083.3 933.3,1081.2 938.9,1080.1 C944.5,1079.0 950.1,1079.4 955.7,1079.0 C961.3,1078.6 967.9,1079.2 972.6,1077.9 C977.3,1076.6 980.1,1074.0 983.8,1071.2 C987.5,1068.4 990.3,1064.5 995.0,1061.1 C999.7,1057.7 1005.3,1052.7 1011.8,1051.0 C1018.3,1049.3 1027.3,1052.2 1034.2,1051.0 C1041.1,1049.8 1046.7,1047.4 1052.9,1043.9 C1059.1,1040.4 1065.7,1033.9 1071.3,1030.1 C1076.9,1026.3 1080.3,1022.9 1086.7,1020.9 C1093.1,1018.9 1102.0,1018.8 1109.7,1017.8 C1117.4,1016.8 1126.3,1017.0 1132.7,1014.7 C1139.1,1012.4 1142.9,1007.6 1148.0,1004.0 C1153.1,1000.4 1157.5,996.2 1163.4,993.3 C1169.3,990.4 1176.2,988.7 1183.6,986.5 C1191.0,984.3 1200.1,983.2 1207.8,980.0 C1215.5,976.8 1222.8,971.0 1229.6,967.2 C1236.4,963.5 1242.1,960.3 1248.9,957.5 C1255.8,954.7 1263.9,951.8 1270.7,950.3 C1277.5,948.8 1282.8,952.2 1290.0,948.5 C1297.2,944.8 1305.7,934.2 1313.6,928.1 C1321.5,922.0 1329.3,915.1 1337.2,911.6 C1345.1,908.1 1353.7,909.2 1360.8,906.9 C1367.9,904.5 1374.2,901.8 1379.7,897.5 C1385.2,893.2 1388.8,886.0 1393.9,880.9 C1399.0,875.8 1404.1,870.5 1410.4,866.8 C1416.7,863.1 1424.9,860.5 1431.6,858.5 C1438.3,856.5 1445.0,858.0 1450.5,855.0 C1456.0,852.0 1460.4,845.9 1464.7,840.8 C1469.0,835.7 1472.6,830.2 1476.5,824.3 C1480.4,818.4 1484.4,809.9 1488.3,805.4 C1492.2,800.9 1496.4,799.4 1500.0,797.0 C1503.6,794.6 1506.3,793.1 1510.0,791.2 C1513.7,789.3 1517.7,789.7 1522.4,785.8 C1527.1,781.9 1533.6,774.2 1538.1,767.9 C1542.6,761.5 1545.9,754.4 1549.3,747.7 C1552.7,741.0 1555.3,734.0 1558.3,727.6 C1561.3,721.2 1564.2,716.0 1567.2,709.6 C1570.2,703.2 1572.5,694.7 1576.2,689.5 C1579.9,684.3 1585.1,682.4 1589.6,678.3 C1594.1,674.2 1599.4,669.7 1603.1,664.8 C1606.8,659.9 1609.2,655.1 1612.0,649.0 C1614.8,642.9 1617.8,635.3 1620.0,628.0 C1622.2,620.7 1623.8,612.2 1625.5,605.0 C1627.2,597.8 1628.4,592.2 1630.0,585.0 C1631.6,577.8 1633.2,569.9 1635.0,561.6 C1636.8,553.3 1638.7,543.7 1640.5,535.2 C1642.3,526.7 1644.2,518.7 1646.0,510.4 C1647.8,502.1 1649.6,493.6 1651.5,485.6 C1653.4,477.6 1655.5,469.9 1657.5,462.5 C1659.5,455.1 1661.5,447.9 1663.5,441.0 C1665.5,434.1 1667.5,427.0 1669.8,421.2 C1672.1,415.4 1674.9,410.0 1677.6,406.3 C1680.3,402.6 1683.1,401.2 1686.0,399.0 C1688.9,396.8 1692.2,393.0 1695.0,393.0 C1697.8,393.0 1700.7,396.8 1703.0,399.0 C1705.3,401.2 1706.6,402.6 1709.0,406.3 C1711.4,410.0 1714.8,415.4 1717.3,421.2 C1719.8,427.0 1722.0,434.1 1723.9,441.0 C1725.8,447.9 1727.2,455.1 1728.8,462.5 C1730.4,469.9 1732.1,477.6 1733.8,485.6 C1735.5,493.6 1737.0,502.1 1738.7,510.4 C1740.4,518.7 1742.1,527.0 1743.7,535.2 C1745.3,543.5 1746.9,551.6 1748.6,559.9 C1750.2,568.1 1751.9,576.4 1753.6,584.7 C1755.2,593.0 1757.0,601.6 1758.5,609.5 C1760.0,617.4 1761.3,624.6 1762.5,632.0 C1763.7,639.4 1764.2,646.3 1765.5,653.9 C1766.8,661.5 1768.5,670.4 1770.3,677.8 C1772.1,685.2 1773.9,692.4 1776.6,698.5 C1779.2,704.6 1782.2,710.4 1786.2,714.4 C1790.2,718.4 1796.0,718.9 1800.5,722.4 C1805.0,725.9 1809.8,730.3 1813.3,735.1 C1816.8,739.9 1818.5,745.7 1821.2,751.0 C1823.9,756.3 1826.6,761.7 1829.2,767.0 C1831.8,772.3 1834.4,777.6 1837.1,782.9 C1839.8,788.2 1842.2,793.8 1845.1,798.8 C1848.0,803.8 1851.2,809.4 1854.7,813.1 C1858.2,816.8 1861.6,821.1 1865.8,821.1 C1870.0,821.1 1875.3,815.5 1880.1,813.1 C1884.9,810.7 1890.0,806.8 1894.5,806.8 C1899.0,806.8 1903.0,809.9 1907.2,813.1 C1911.5,816.3 1916.0,822.7 1920.0,825.9 C1924.0,829.1 1927.1,831.0 1931.1,832.3 C1935.1,833.6 1939.1,835.2 1943.9,833.9 C1948.7,832.6 1953.5,827.1 1959.8,824.3 C1966.1,821.5 1972.8,817.7 1982.0,817.0 C1991.2,816.3 2005.8,821.3 2015.0,820.2 C2024.2,819.1 2029.7,813.0 2037.0,810.3 C2044.3,807.5 2049.8,805.7 2058.9,803.7 C2068.1,801.7 2082.8,800.4 2091.9,798.2 C2101.1,796.0 2104.7,793.4 2113.8,790.5 C2123.0,787.6 2137.6,783.5 2146.8,780.7 C2156.0,778.0 2161.1,776.0 2168.8,774.0 C2176.5,772.0 2189.0,769.4 2193.0,768.5" stroke="#000"/>
</g>
<g font-family="'Liberation Serif', 'Times New Roman', serif" fill="#000">
<text transform="translate(197.20,102.40) scale(0.9877,1)" font-size="81">35</text>
<text transform="translate(147.77,102.40) scale(1.1443,1)" font-size="81">−</text>
<text transform="translate(197.34,278.00) scale(1.0256,1)" font-size="81">40</text>
<text transform="translate(147.77,278.00) scale(1.1443,1)" font-size="81">−</text>
<text transform="translate(197.38,452.50) scale(0.9982,1)" font-size="81">45</text>
<text transform="translate(147.77,452.50) scale(1.1443,1)" font-size="81">−</text>
<text transform="translate(196.05,635.40) scale(1.0422,1)" font-size="81">50</text>
<text transform="translate(147.77,635.40) scale(1.1443,1)" font-size="81">−</text>
<text transform="translate(197.08,809.30) scale(0.9918,1)" font-size="81">55</text>
<text transform="translate(147.77,809.30) scale(1.1443,1)" font-size="81">−</text>
<text transform="translate(196.43,991.70) scale(1.0373,1)" font-size="81">60</text>
<text transform="translate(147.77,991.70) scale(1.1443,1)" font-size="81">−</text>
<text transform="translate(197.50,1172.80) scale(0.9863,1)" font-size="81">65</text>
<text transform="translate(147.77,1172.80) scale(1.1443,1)" font-size="81">−</text>
<text transform="translate(196.22,1354.00) scale(1.0399,1)" font-size="81">70</text>
<text transform="translate(147.77,1354.00) scale(1.1443,1)" font-size="81">−</text>
<text transform="translate(193.54,1536.10) scale(1.0373,1)" font-size="81">75</text>
<text transform="translate(147.77,1536.10) scale(1.1443,1)" font-size="81">−</text>
<text transform="translate(303.76,1608.40) scale(0.9870,1)" font-size="82">6</text>
<text transform="translate(513.83,1612.50) scale(0.9955,1)" font-size="82">6.5</text>
<text transform="translate(776.79,1612.40) scale(1.0148,1)" font-size="82">7</text>
<text transform="translate(979.73,1612.40) scale(1.0076,1)" font-size="82">7.5</text>
<text transform="translate(1246.67,1608.40) scale(0.9211,1)" font-size="82">8</text>
<text transform="translate(1445.16,1611.50) scale(0.9569,1)" font-size="82">8.5</text>
<text transform="translate(1714.07,1611.80) scale(1.0612,1)" font-size="82">9</text>
<text transform="translate(1914.56,1611.80) scale(0.9911,1)" font-size="82">9.5</text>
<text transform="translate(2156.34,1611.80) scale(1.0118,1)" font-size="82">10</text>
<text transform="translate(921.79,1715.70) scale(0.9797,1)" font-size="99">Frequency (GHz)</text>
<g transform="translate(107.6,1056.1) rotate(-90)"><text transform="translate(-2.91,0) scale(0.9861,1)" font-size="98.5">RCS (dBsm)</text></g>
<text transform="translate(468.38,433.50) scale(1.0342,1)" font-size="80">(a)</text>
<text transform="translate(738.20,433.50) scale(1.0278,1)" font-size="80">(b)</text>
<text transform="translate(468.43,787.00) scale(1.0196,1)" font-size="80">(c)</text>
<text transform="translate(737.57,787.00) scale(1.0081,1)" font-size="80">(d)</text>
<text transform="translate(1408.15,1132.80) scale(1.0034,1)" font-size="81.5">RCS of Resonator (a)</text>
<text transform="translate(1408.16,1230.50) scale(0.9970,1)" font-size="81.5">RCS of Resonator (b)</text>
<text transform="translate(1408.15,1325.50) scale(1.0034,1)" font-size="81.5">RCS of Resonator (c)</text>
<text transform="translate(1408.16,1422.00) scale(0.9970,1)" font-size="81.5">RCS of Resonator (d)</text>
</g>
<rect x="1228.8" y="1094.35" width="170.4" height="12.5" fill="#0404c6"/>
<rect x="1228.8" y="1192.85" width="170.4" height="12.5" fill="#e4060a"/>
<rect x="1228.8" y="1286.45" width="170.4" height="12.5" fill="#00dd0a"/>
<rect x="1228.8" y="1385.45" width="170.4" height="12.5" fill="#000"/>
</g>
</svg>
</body></html>
